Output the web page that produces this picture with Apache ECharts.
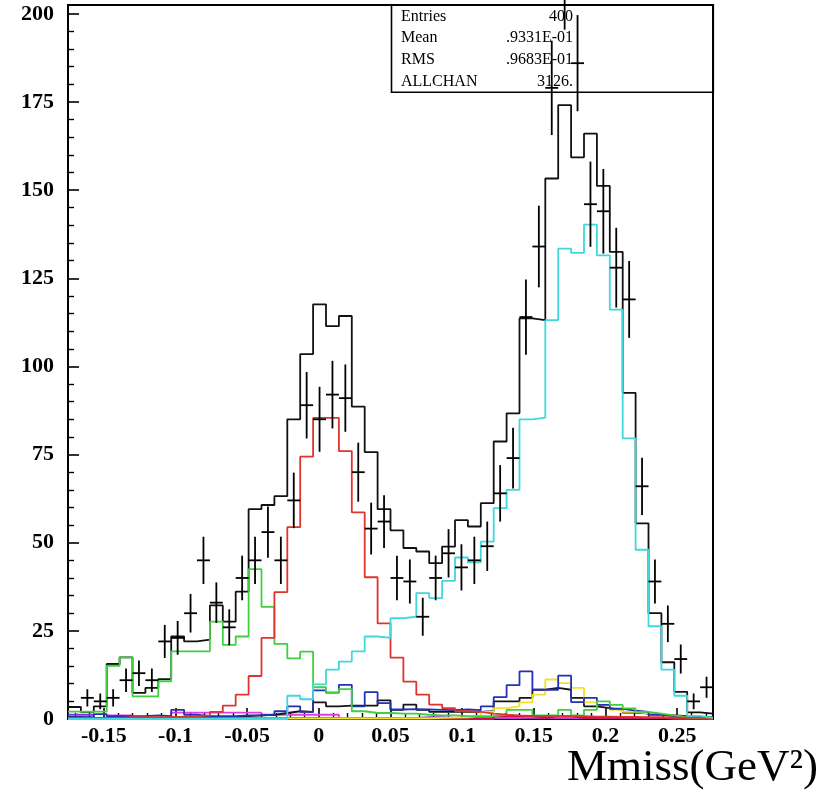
<!DOCTYPE html>
<html>
<head>
<meta charset="utf-8">
<script src="https://cdn.jsdelivr.net/npm/echarts@6/dist/echarts.min.js"></script>
<style>
  html, body { margin: 0; padding: 0; background: #fff; }
  #chart { width: 834px; height: 794px; }
</style>
</head>
<body>
<div id="chart"></div>
<script>
// Missing-mass spectrum: 50 bins of 0.009 GeV^2 from -0.175 to 0.275
const BIN_LO = -0.175;
const BIN_W = 0.009;
const N_BINS = 50;

// Measured counts per bin (drawn as crosses with sqrt(N) errors)
const dataCounts = [0, 6, 5, 6, 11, 13, 11, 22, 23, 30,
  45, 33, 26, 40, 45, 53, 45, 62, 89, 85,
  92, 91, 70, 54, 56, 40, 39, 29, 40, 47,
  43, 45, 49, 64, 74, 114, 134, 179, 210, 186,
  146, 144, 128, 119, 66, 39, 27, 17, 5, 9];

// Sum of all fitted components
const fitTotal = [3.4, 2, 3.6, 15.6, 17.5, 7.4, 8.8, 11.3, 23.4, 22,
  22.5, 32.2, 27.6, 36.1, 59.5, 60.7, 63.2, 85, 103.5, 117.6,
  111.4, 114.3, 88.6, 75.7, 59.5, 53.5, 48.5, 47.5, 44.2, 48.9,
  56.4, 54.6, 61.2, 78.7, 86.7, 113.6, 113.1, 153.3, 174.1, 159.3,
  166, 151.2, 132.5, 92.5, 55.5, 30, 16.1, 7.7, 1.9, 1.5];

const cyanComp = [0, 0, 0, 0, 0, 0, 0, 0, 0, 0,
  0, 0, 0, 0, 0, 0, 0, 6.6, 5.6, 9.8,
  14, 16.3, 19.2, 23.4, 23, 28.6, 29, 35.7, 34.3, 39.2,
  45.8, 44.4, 50.3, 59.8, 65, 85, 85.5, 113.1, 133.4, 132.2,
  140.2, 131.5, 116.1, 79.6, 48, 26.3, 14, 6.6, 0.9, 0.4];

const redComp = [0.3, 0.3, 0.3, 0.3, 0.5, 0.5, 0.5, 0.5, 0.7, 0.8,
  1, 2, 3.8, 6.9, 12.2, 23, 36, 54.4, 74.4, 85.4,
  85.4, 76, 58.6, 40.2, 27.1, 17.4, 10.6, 6.9, 4.1, 3.1,
  2.2, 2, 1.5, 1.2, 1, 0.9, 0.9, 0.8, 0.8, 0.8,
  0.7, 0.7, 0.6, 0.6, 0.5, 0.5, 0.4, 0.4, 0.3, 0.3];

const greenComp = [2.1, 2.1, 2.1, 15.1, 17.5, 6.4, 6.4, 10.7, 19.2, 19.2,
  19.2, 27.6, 21, 23.4, 42.5, 31.8, 21.3, 17.2, 19.1, 9,
  7.5, 8.5, 2.2, 1.7, 1.7, 1.5, 1.5, 1.2, 1, 1,
  0.8, 0.8, 0.8, 1.2, 2.6, 2.6, 1, 1, 2.6, 1,
  2.6, 5, 4, 3, 2, 1.5, 1, 0.5, 0.3, 0.2];

const blueComp = [0.5, 0.5, 1.4, 0.8, 0.8, 0.8, 1, 0.8, 2.6, 1.2,
  0.8, 0.8, 0.8, 1, 1, 1.2, 2.2, 3.6, 2, 8.1,
  7.5, 9.7, 3.6, 7.6, 4.5, 2.7, 2.8, 2.7, 2.6, 2.5,
  2.7, 2.5, 3.6, 6.2, 9.6, 13.5, 8.3, 8.3, 12.3, 4.8,
  6, 4, 2.9, 2.4, 2, 1.2, 0.8, 0.5, 0.3, 0.2];

const yellowComp = [0.2, 0.2, 0.2, 0.2, 0.2, 0.2, 0.2, 0.2, 0.2, 0.2,
  0.2, 0.2, 0.2, 0.2, 0.2, 0.2, 0.2, 0.2, 0.2, 0.2,
  0.2, 0.2, 0.2, 0.2, 0.2, 0.2, 0.2, 0.2, 0.3, 0.4,
  0.5, 1, 2, 3.1, 3.6, 4.7, 6.9, 11.2, 10.2, 8.8,
  4.7, 4, 2.6, 2, 1.5, 1.2, 0.8, 0.5, 0.3, 0.2];

const darkComp = [0.5, 0.3, 0.3, 0.3, 0.3, 0.3, 0.3, 0.4, 0.5, 0.5,
  0.5, 0.6, 0.6, 0.8, 1, 1.2, 1.7, 2.2, 2, 4.7,
  3.6, 3.8, 3.8, 3.8, 5.3, 2.6, 4.1, 2.6, 2, 2,
  2, 2, 2.2, 5, 5, 6, 8.3, 8.8, 8.3, 6,
  3.6, 3.1, 2.6, 1.8, 1.5, 1.2, 1, 0.8, 0.5, 0.5];

const magentaComp = [0.3, 0.3, 0.3, 1, 1, 0.3, 0.3, 0.3, 1.8, 1.8,
  1.8, 1.8, 1.8, 1.8, 1.8, 1.2, 1.2, 1.2, 1.2, 1.2,
  1.2, 0.3, 0.3, 0.3, 0.3, 0.3, 0.3, 0.3, 0.3, 0.3,
  0.3, 0.3, 0.3, 0.3, 0.3, 0.3, 0.3, 0.3, 0.3, 0.3,
  0.3, 0.3, 0.3, 0.3, 0.3, 0.3, 0.3, 0.3, 0.3, 0.3];

const purpleComp = [1.2, 1.2, 0.3, 0.3, 0.3, 0.3, 0.3, 0.3, 0.3, 0.3,
  0.3, 0.3, 0.3, 0.3, 0.3, 0.3, 0.3, 0.3, 0.3, 0.3,
  0.3, 0.3, 0.3, 0.3, 0.3, 0.3, 0.3, 0.5, 0.5, 0.3,
  0.3, 0.3, 0.3, 0.3, 0.3, 0.6, 0.6, 0.3, 0.3, 0.3,
  0.3, 0.3, 0.3, 0.3, 0.3, 0.3, 0.3, 0.3, 0.3, 0.3];

const crimsonComp = [0, 0, 0, 0, 0, 0, 0, 0, 0, 0,
  0, 0, 0, 0, 0, 0, 0, 0, 0, 0,
  0, 0, 0, 0, 0, 0, 0, 0, 0, 0,
  0, 0, 0, 0.8, 0.8, 0.8, 0.3, 0.8, 0.8, 0.3,
  0.3, 0.3, 0.3, 0.3, 0.3, 0.3, 0, 0, 0, 0];

// Axis ticks and labels
const xMajor = [-0.15, -0.1, -0.05, 0, 0.05, 0.1, 0.15, 0.2, 0.25];
const xMinor = [-0.17, -0.16, -0.14, -0.13, -0.12, -0.11, -0.09, -0.08, -0.07, -0.06,
  -0.04, -0.03, -0.02, -0.01, 0.01, 0.02, 0.03, 0.04, 0.06, 0.07, 0.08, 0.09,
  0.11, 0.12, 0.13, 0.14, 0.16, 0.17, 0.18, 0.19, 0.21, 0.22, 0.23, 0.24, 0.26, 0.27];
const yMajor = [0, 25, 50, 75, 100, 125, 150, 175, 200];
const yMinor = [5, 10, 15, 20, 30, 35, 40, 45, 55, 60, 65, 70, 80, 85, 90, 95,
  105, 110, 115, 120, 130, 135, 140, 145, 155, 160, 165, 170, 180, 185, 190, 195];

// Statistics box rows
const statLabels = ['Entries', 'Mean', 'RMS', 'ALLCHAN'];
const statValues = ['400', '.9331E-01', '.9683E-01', '3126.'];

const X_MIN = -0.175, X_MAX = 0.275, Y_MIN = 0, Y_MAX = 202.5;

// Bin left edges, with the closing right edge appended
const edges = [];
for (let i = 0; i <= N_BINS; i++) edges.push(+(BIN_LO + i * BIN_W).toFixed(4));

function histData(vals) {
  const out = vals.map((v, i) => [edges[i], v]);
  out.push([edges[N_BINS], vals[N_BINS - 1]]);
  return out;
}

function histSeries(vals, color, z) {
  return {
    type: 'line',
    step: 'end',
    data: histData(vals),
    showSymbol: false,
    symbol: 'none',
    silent: true,
    animation: false,
    z: z,
    lineStyle: { color: color, width: 1.8 }
  };
}

const crossData = dataCounts.map((v, i) => [edges[i] + BIN_W / 2, v]);

const serif = 'Liberation Serif, Times New Roman, serif';

const chart = echarts.init(document.getElementById('chart'), null, { renderer: 'canvas' });

const option = {
  backgroundColor: '#fff',
  animation: false,
  grid: {
    left: 68, top: 5, right: 121, bottom: 75,
    show: true, borderColor: '#000', borderWidth: 2,
    containLabel: false, outerBoundsMode: 'none'
  },
  xAxis: [
    {
      type: 'value', min: X_MIN, max: X_MAX, position: 'bottom',
      axisLine: { show: true, onZero: false, lineStyle: { color: '#000', width: 2 } },
      axisTick: { show: true, inside: true, length: 11, customValues: xMajor,
                  lineStyle: { color: '#000', width: 1.6 } },
      axisLabel: { show: true, customValues: xMajor, margin: 6, color: '#000',
                   fontFamily: serif, fontWeight: 'bold', fontSize: 22 },
      splitLine: { show: false }
    },
    {
      type: 'value', min: X_MIN, max: X_MAX, position: 'bottom',
      axisLine: { show: false, onZero: false },
      axisTick: { show: true, inside: true, length: 6, customValues: xMinor,
                  lineStyle: { color: '#000', width: 1.4 } },
      axisLabel: { show: false },
      splitLine: { show: false }
    }
  ],
  yAxis: [
    {
      type: 'value', min: Y_MIN, max: Y_MAX, position: 'left',
      axisLine: { show: true, onZero: false, lineStyle: { color: '#000', width: 2 } },
      axisTick: { show: true, inside: true, length: 11, customValues: yMajor,
                  lineStyle: { color: '#000', width: 1.6 } },
      axisLabel: { show: true, customValues: yMajor, margin: 14, color: '#000',
                   fontFamily: serif, fontWeight: 'bold', fontSize: 22 },
      splitLine: { show: false }
    },
    {
      type: 'value', min: Y_MIN, max: Y_MAX, position: 'left',
      axisLine: { show: false, onZero: false },
      axisTick: { show: true, inside: true, length: 6, customValues: yMinor,
                  lineStyle: { color: '#000', width: 1.4 } },
      axisLabel: { show: false },
      splitLine: { show: false }
    }
  ],
  series: [
    histSeries(fitTotal, '#111111', 3),
    histSeries(purpleComp, '#8a2be2', 3),
    histSeries(magentaComp, '#e23de2', 3),
    histSeries(crimsonComp, '#c8104a', 3),
    histSeries(darkComp, '#151515', 3),
    histSeries(yellowComp, '#f2e12a', 3),
    histSeries(blueComp, '#2331b4', 4),
    histSeries(greenComp, '#3fd03f', 4),
    histSeries(redComp, '#e0352e', 4),
    histSeries(cyanComp, '#3fd8dc', 4),
    {
      type: 'custom',
      data: crossData,
      encode: { x: 0, y: 1 },
      clip: false,
      silent: true,
      animation: false,
      z: 10,
      renderItem: function (params, api) {
        const xc = api.value(0);
        const v = api.value(1);
        if (!(v > 0)) return null;
        const e = Math.sqrt(v);
        const l = api.coord([xc - BIN_W / 2, v]);
        const r = api.coord([xc + BIN_W / 2, v]);
        const t = api.coord([xc, v + e]);
        const b = api.coord([xc, v - e]);
        const st = { stroke: '#000', lineWidth: 1.8 };
        return {
          type: 'group',
          children: [
            { type: 'line', shape: { x1: l[0], y1: l[1], x2: r[0], y2: r[1] }, style: st },
            { type: 'line', shape: { x1: t[0], y1: t[1], x2: b[0], y2: b[1] }, style: st }
          ]
        };
      }
    }
  ],
  graphic: [
    {
      type: 'rect', z: 1,
      shape: { x: 391.5, y: 5, width: 321.8, height: 87.3 },
      style: { fill: 'rgba(255,255,255,0)', stroke: '#000', lineWidth: 1.6 }
    }
  ].concat(statLabels.map((s, i) => ({
    type: 'text', z: 20, x: 401, y: 16.3 + i * 21.9,
    style: { text: s, fill: '#000', font: '16px ' + serif, textAlign: 'left', textVerticalAlign: 'middle' }
  }))).concat(statValues.map((s, i) => ({
    type: 'text', z: 20, x: 573, y: 16.3 + i * 21.9,
    style: { text: s, fill: '#000', font: '16px ' + serif, textAlign: 'right', textVerticalAlign: 'middle' }
  }))).concat([
    {
      type: 'text', z: 20, x: 567, y: 746,
      style: { text: 'Mmiss(GeV²)', fill: '#000', font: '45px ' + serif, textAlign: 'left', textVerticalAlign: 'top' }
    }
  ])
};

chart.setOption(option);
</script>
</body>
</html>
